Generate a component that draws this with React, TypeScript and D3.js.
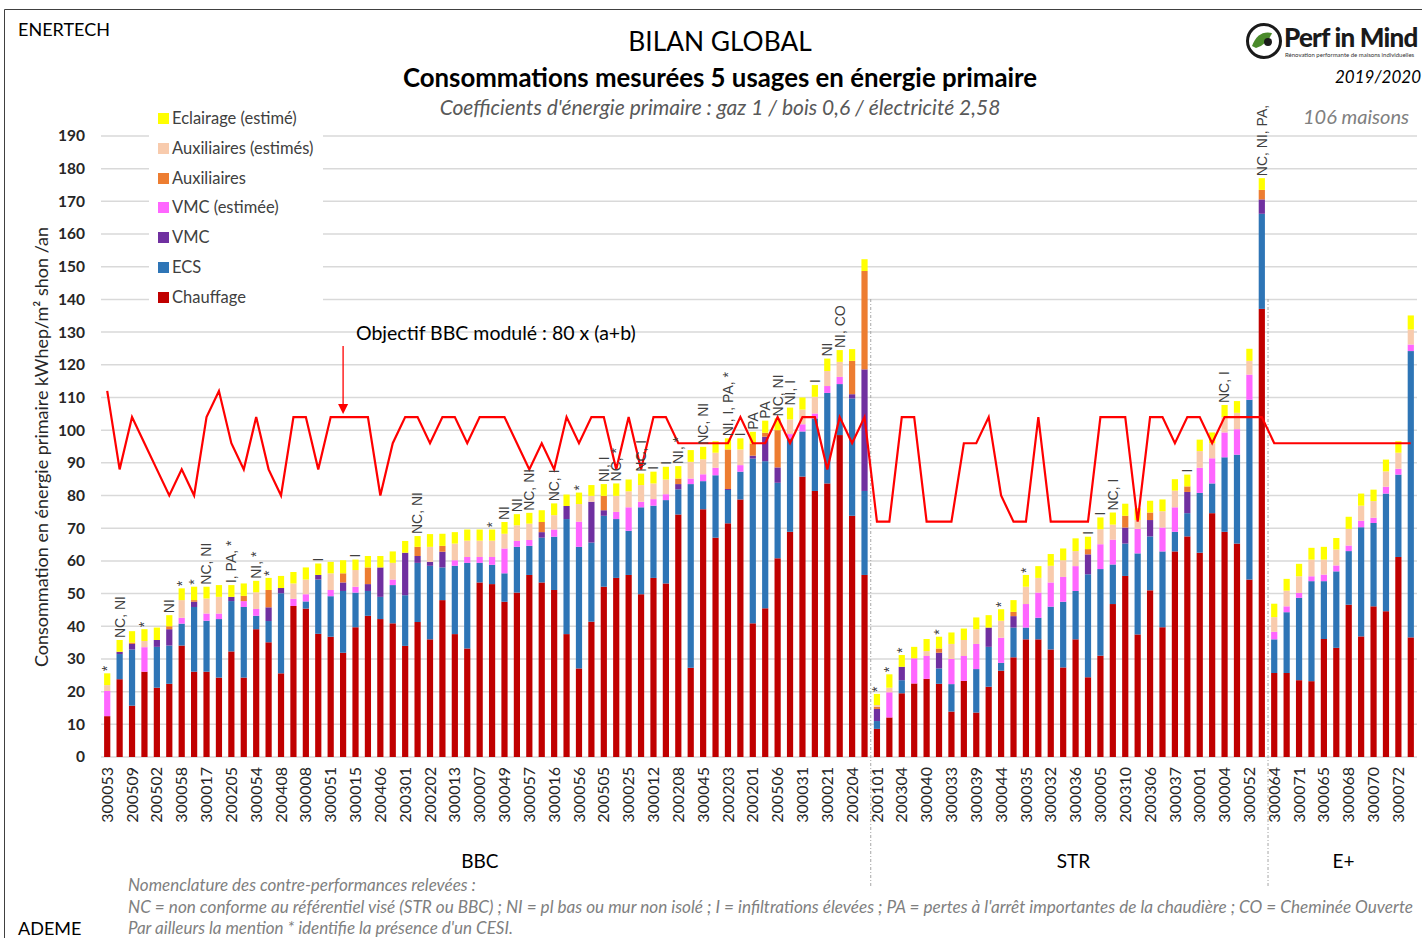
import React from "react";
import * as d3 from "d3";

// tick labels shown under every other house
const tickLabels = [
  "300053", "200509", "200502", "300058", "300017", "200205", "300054", "200408", "300008", "300051",
  "300015", "200406", "200301", "200202", "300013", "300007", "300049", "300057", "300016", "300056",
  "200505", "300025", "300012", "200208", "300045", "200203", "200201", "200506", "300031", "300021",
  "200204", "200101", "200304", "300040", "300033", "300039", "300044", "300035", "300032", "300036",
  "300005", "200310", "200306", "300037", "300001", "300004", "300052", "300064", "300071", "300065",
  "300068", "300070", "300072",
];

const groupNames = ["BBC", "STR", "E+"];
const groupSizes = [62, 32, 12];

const seriesNames = [
  "Chauffage", "ECS", "VMC", "VMC (estimée)", "Auxiliaires", "Auxiliaires (estimés)", "Eclairage (estimé)",
];
const seriesColors = ["#c00000", "#2e75b6", "#7030a0", "#ff66ff", "#ed7d31", "#f8cbad", "#ffff00"];

const chauffage = [
  12.5, 23.8, 15.7, 26.1, 21.2, 22.4, 34.1, 26.1, 26.1, 24.3,
  32.3, 24.3, 39.1, 35.1, 25.6, 46.2, 45.4, 37.7, 36.8, 31.9,
  39.7, 43.2, 42.2, 40.9, 34.0, 41.3, 36.0, 48.0, 37.6, 33.2,
  53.4, 52.9, 47.5, 50.3, 55.7, 53.4, 51.1, 37.6, 27.1, 41.4,
  52.1, 54.8, 55.7, 49.8, 54.8, 53.1, 74.2, 27.3, 75.8, 67.1,
  71.5, 78.8, 40.9, 45.5, 60.8, 68.9, 85.8, 81.4, 83.7, 98.5,
  73.8, 55.7, 8.6, 12.1, 19.5, 22.5, 23.9, 22.4, 13.9, 23.3,
  13.6, 21.5, 26.4, 30.5, 36.0, 36.0, 32.9, 27.4, 36.0, 24.4,
  31.0, 46.8, 55.4, 37.5, 51.0, 39.7, 62.9, 67.5, 62.5, 74.6,
  68.9, 65.3, 54.3, 137.1, 25.7, 25.7, 23.5, 23.2, 36.1, 33.4,
  46.6, 36.9, 46.1, 44.6, 61.2, 36.6,
];
const ecs = [
  0, 7.7, 17.2, 0, 12.5, 11.7, 6.7, 19.8, 15.6, 17.9,
  15.4, 21.6, 4.1, 6.5, 24.5, 0, 2.2, 16.6, 12.4, 18.9,
  10.6, 7.6, 6.8, 11.7, 15.5, 18.1, 22.5, 10.0, 20.9, 26.2,
  6.0, 5.9, 8.7, 14.0, 8.9, 13.7, 16.3, 35.2, 37.2, 24.2,
  21.7, 18.0, 13.5, 26.6, 22.1, 25.5, 7.7, 56.2, 8.6, 19.1,
  10.2, 8.5, 50.4, 45.0, 23.1, 28.6, 13.8, 22.2, 27.7, 15.6,
  35.9, 25.7, 2.4, 0, 4.0, 0, 0, 4.7, 8.4, 0,
  13.3, 12.2, 2.4, 9.1, 3.6, 6.6, 13.1, 20.1, 14.8, 31.5,
  26.5, 12.1, 9.9, 24.8, 16.5, 23.2, 6.0, 7.1, 18.3, 9.1,
  22.8, 27.2, 55.0, 29.1, 10.3, 18.6, 25.2, 30.6, 17.7, 23.4,
  16.4, 33.4, 25.5, 36.0, 25.2, 87.6,
];
const vmc = [
  0, 0.7, 1.7, 0, 2.1, 5.0, 0, 1.6, 0, 0,
  1.3, 0, 0, 4.2, 1.6, 0, 0, 1.4, 0, 2.6,
  0, 2.1, 9.0, 0, 13.0, 2.1, 1.2, 4.8, 0, 0,
  0, 0, 0, 0, 0, 1.7, 0, 4.0, 0, 12.5,
  1.7, 0, 0, 0, 0, 0, 1.6, 0, 0, 0,
  0.3, 0, 0.9, 7.5, 4.7, 0, 0, 0, 0, 0,
  1.3, 37.2, 3.7, 0, 4.1, 0, 0, 4.8, 0, 0,
  0, 5.9, 0, 3.5, 0, 0, 0, 0, 0, 6.1,
  0, 0, 4.9, 0, 5.0, 0, 0, 6.5, 0, 0,
  0, 0, 0, 4.4, 0, 0, 0, 0, 0, 0,
  0, 0, 0, 0, 0, 0,
];
const vmcEstimee = [
  7.7, 0, 0, 7.5, 0, 0, 1.8, 0, 2.2, 1.7,
  0, 1.8, 2.1, 0, 0, 2.2, 2.2, 0, 1.9, 0,
  1.8, 0, 0, 1.7, 0, 0, 0, 0, 1.7, 1.8,
  1.8, 2.4, 7.6, 1.8, 1.8, 0, 2.2, 0, 7.7, 0,
  0, 2.2, 7.2, 1.7, 2.0, 1.8, 0, 1.7, 2.1, 2.3,
  0, 2.0, 0, 0, 0, 1.3, 2.2, 1.5, 2.1, 2.2,
  0, 0, 0, 7.7, 0, 7.7, 7.0, 0, 7.7, 7.6,
  7.7, 0, 7.7, 0, 7.2, 7.7, 7.4, 7.6, 7.6, 0,
  7.6, 7.6, 0, 7.5, 0, 7.3, 7.5, 0, 7.7, 7.7,
  7.6, 7.8, 7.7, 0, 2.3, 1.8, 1.5, 1.5, 2.0, 1.8,
  1.7, 2.0, 1.6, 2.1, 1.8, 2.0,
];
const auxiliaires = [
  0, 0, 0.4, 0, 0, 0.9, 0, 0.5, 0, 0,
  0, 1.6, 0, 5.3, 0, 0, 0, 0, 0, 2.8,
  0, 5.1, 0, 0, 0, 2.8, 0, 1.8, 0, 0,
  0, 0, 0, 0, 0, 3.1, 0, 0, 0, 0,
  4.4, 0, 0, 0, 0, 0, 1.7, 0, 0, 0,
  12.1, 0, 3.7, 1.2, 11.4, 0, 0, 0, 0, 0,
  10.2, 30.1, 0.7, 0, 0, 0, 0, 1.3, 0, 0,
  0, 0, 0, 1.3, 0, 0, 0, 0, 0, 1.6,
  0, 0, 3.6, 0, 2.3, 0, 0, 1.7, 0, 0,
  0, 0, 0, 2.9, 0, 0, 0, 0, 0, 0,
  0, 0, 0, 0, 0, 0,
];
const auxEstimes = [
  1.8, 0, 0, 1.9, 0, 0, 5.4, 0, 4.6, 5.1,
  0, 0, 5.1, 0, 0, 4.7, 4.5, 0, 5.1, 0,
  5.1, 0, 0, 5.1, 0, 0, 4.6, 0, 5.1, 5.0,
  5.0, 5.0, 4.5, 4.8, 5.0, 0, 4.4, 0, 5.4, 1.8,
  0, 4.9, 4.9, 5.1, 4.8, 4.5, 0, 5.1, 4.6, 4.6,
  0, 4.8, 0, 0, 0, 4.5, 4.5, 5.1, 4.6, 4.6,
  0, 0, 0.5, 1.4, 0, 0, 1.5, 0, 4.6, 4.9,
  4.5, 0, 5.2, 0, 5.3, 4.5, 5.1, 5.1, 4.6, 0,
  4.6, 4.6, 0, 2.7, 0, 5.0, 5.1, 0, 5.1, 4.6,
  4.7, 5.0, 4.2, 0, 4.5, 4.8, 5.1, 5.1, 4.6, 4.9,
  5.1, 4.6, 5.1, 4.7, 4.9, 4.6,
];
const eclairage = [
  3.6, 3.6, 3.5, 3.6, 3.8, 3.4, 3.6, 4.1, 3.6, 3.6,
  3.6, 3.8, 3.5, 3.7, 3.7, 3.5, 3.7, 3.5, 3.5, 4.0,
  3.2, 3.5, 3.5, 3.5, 3.6, 3.3, 3.9, 3.7, 3.5, 3.4,
  3.4, 3.4, 3.6, 3.4, 3.3, 3.6, 3.6, 3.5, 3.5, 3.3,
  3.6, 3.8, 3.6, 3.5, 3.6, 3.9, 3.8, 3.6, 3.8, 3.5,
  3.4, 3.4, 3.6, 3.7, 3.6, 3.6, 3.7, 3.6, 3.8, 3.6,
  3.6, 3.6, 3.4, 4.1, 3.6, 3.5, 3.7, 3.6, 3.5, 3.5,
  3.6, 3.8, 3.5, 3.6, 3.6, 3.6, 3.6, 3.6, 3.9, 3.8,
  3.6, 3.7, 3.7, 3.6, 3.6, 3.6, 3.5, 3.6, 3.5, 3.3,
  3.7, 3.6, 3.7, 3.6, 4.1, 3.6, 3.8, 3.6, 3.9, 3.5,
  3.7, 3.7, 3.5, 3.6, 3.5, 4.3,
];

// objectif BBC modulé, one point per house
const objectif = [
  112, 88, 104, 96, 88, 80, 88, 80, 104, 112,
  96, 88, 104, 88, 80, 104, 104, 88, 104, 104,
  104, 104, 80, 96, 104, 104, 96, 104, 104, 96,
  104, 104, 104, 96, 88, 96, 88, 104, 96, 104,
  104, 88, 104, 88, 104, 104, 96, 96, 96, 96,
  96, 104, 96, 96, 104, 96, 104, 104, 88, 104,
  96, 104, 72, 72, 104, 104, 72, 72, 72, 96,
  96, 104, 80, 72, 72, 104, 72, 72, 72, 72,
  104, 104, 104, 72, 104, 104, 96, 104, 104, 96,
  104, 104, 104, 104, 96, 96, 96, 96, 96, 96,
  96, 96, 96, 96, 96, 96,
];

// contre-performances: [house index, label]
const annotations: [number, string][] = [
  [0, "*"], [1, "NC, NI"], [3, "*"], [5, "NI"], [6, "*"], [7, "*"], [8, "NC, NI"], [10, "I, PA, *"],
  [12, "NI, *"], [13, "*"], [17, "I"], [20, "I"], [25, "NC, NI"], [31, "*"], [32, "NI"], [33, "NI"],
  [34, "NC, NI"], [36, "NC, I"], [38, "*"], [40, "NI, I"], [41, "NC, *"], [43, "NC, I"], [44, "I"],
  [45, "I"], [46, "NI, *"], [48, "NC, NI"], [50, "NI, I, PA, *"], [51, "I"], [52, "PA"], [53, "PA"],
  [54, "NC, NI"], [55, "NI, I"], [57, "I"], [58, "NI"], [59, "NI, CO"], [62, "*"], [63, "*"], [64, "*"],
  [67, "*"], [72, "*"], [74, "*"], [79, "I"], [80, "I"], [81, "NC, I"], [87, "I"], [90, "NC, I"],
  [93, "NC, NI, PA,"],
];

const yTicks = [0, 10, 20, 30, 40, 50, 60, 70, 80, 90, 100, 110, 120, 130, 140, 150, 160, 170, 180, 190];

const FONT = "Lato, 'Open Sans', sans-serif";

export default function App() {
  const n = chauffage.length;
  const idx = d3.range(n);
  const x = d3.scaleBand<number>().domain(idx).range([101, 1417]).paddingInner(0.5).paddingOuter(0.25);
  const y = d3.scaleLinear().domain([0, 190]).range([757, 136]);
  const cx = (i: number) => (x(i) as number) + x.bandwidth() / 2;

  const all = [chauffage, ecs, vmc, vmcEstimee, auxiliaires, auxEstimes, eclairage];
  const rows = idx.map((i) => {
    const r: Record<string, number> = {};
    seriesNames.forEach((s, k) => (r[s] = all[k][i]));
    return r;
  });
  const stacked = d3.stack<Record<string, number>>().keys(seriesNames)(rows);
  const totals = idx.map((i) => all.reduce((a, s) => a + s[i], 0));

  const line = d3
    .line<number>()
    .x((_, i) => cx(i))
    .y((d) => y(d));

  // group boundaries
  const bounds: number[] = [];
  let acc = 0;
  groupSizes.forEach((g) => {
    bounds.push(acc);
    acc += g;
  });
  const sepX = bounds.slice(1).map((b) => ((x(b - 1) as number) + x.bandwidth() + (x(b) as number)) / 2);
  const groupNudge = [-6, 4, 1];

  const legendY = [118, 148, 178, 207, 237, 267, 297];

  return (
    <svg width={1422} height={938} style={{ position: "absolute", left: 0, top: 0, background: "#fff" }}>
      <rect x={0} y={0} width={1422} height={938} fill="#fff" />
      <path d="M4.5,938 V9.5 H1422" fill="none" stroke="#404040" strokeWidth={1} />

      {/* gridlines */}
      {yTicks.map((t) => (
        <line key={t} x1={101} x2={1417} y1={y(t)} y2={y(t)} stroke="#d9d9d9" strokeWidth={1.5} />
      ))}

      {/* bars */}
      {stacked.map((layer, k) => (
        <g key={layer.key} fill={seriesColors[k]}>
          {layer.map((d, i) =>
            d[1] - d[0] > 0 ? (
              <rect key={i} x={x(i)} y={y(d[1])} width={x.bandwidth()} height={y(d[0]) - y(d[1])} />
            ) : null
          )}
        </g>
      ))}

      {/* group separators */}
      {sepX.map((sx, i) => (
        <line key={i} x1={sx} x2={sx} y1={299} y2={886} stroke="#a6a6a6" strokeWidth={1} strokeDasharray="3 2 1 2" />
      ))}

      {/* objectif line */}
      <path d={line(objectif) || ""} fill="none" stroke="#ff0000" strokeWidth={2.2} strokeLinejoin="miter" />

      {/* legend */}
      <rect x={149} y={100} width={174} height={210} fill="#fff" />
      {seriesNames
        .slice()
        .reverse()
        .map((s, j) => (
          <g key={s} transform={`translate(158,${legendY[j]})`}>
            <rect x={0} y={-5} width={11} height={11} fill={seriesColors[seriesNames.length - 1 - j]} />
            <text x={14} y={5.5} fontFamily={FONT} fontSize={16.5} fill="#404040">
              {s}
            </text>
          </g>
        ))}

      {/* annotations */}
      {annotations.map(([i, t]) => (
        <text
          key={i}
          transform={`translate(${cx(i)},${y(totals[i]) - 2}) rotate(-90)`}
          dy="0.35em"
          fontFamily="'Liberation Sans', Arial, sans-serif"
          fontSize={14}
          fill="#404040"
        >
          {t}
        </text>
      ))}

      {/* y axis */}
      {yTicks.map((t) => (
        <text key={t} x={85} y={y(t)} dy="0.35em" textAnchor="end" fontFamily={FONT} fontWeight="bold" fontSize={15.5} fill="#262626">
          {t}
        </text>
      ))}
      <text
        transform="translate(42,447) rotate(-90)"
        dy="0.35em"
        textAnchor="middle"
        fontFamily={FONT}
        fontSize={18}
        fill="#262626"
      >
        Consommation en énergie primaire kWhep/m² shon /an
      </text>

      {/* x tick labels */}
      {tickLabels.map((t, j) => (
        <text
          key={t + j}
          transform={`translate(${cx(j * 2)},767) rotate(-90)`}
          dy="0.35em"
          textAnchor="end"
          fontFamily={FONT}
          fontSize={16}
          fill="#262626"
        >
          {t}
        </text>
      ))}

      {/* group names */}
      {groupNames.map((g, k) => {
        const a = bounds[k];
        const b = a + groupSizes[k] - 1;
        return (
          <text key={g} x={(cx(a) + cx(b)) / 2 + groupNudge[k]} y={868} textAnchor="middle" fontFamily={FONT} fontSize={19} fill="#000">
            {g}
          </text>
        );
      })}

      {/* objectif annotation */}
      <text x={356} y={340} fontFamily={FONT} fontSize={19.5} fill="#000">
        Objectif BBC modulé : 80 x (a+b)
      </text>
      <line x1={cx(19)} x2={cx(19)} y1={346} y2={405} stroke="#ff0000" strokeWidth={1.3} />
      <path d={`M${cx(19) - 5},404 L${cx(19) + 5},404 L${cx(19)},414 Z`} fill="#ff0000" />

      {/* titles */}
      <text x={18} y={36} fontFamily={FONT} fontSize={18} fill="#000">ENERTECH</text>
      <text x={720} y={51} textAnchor="middle" fontFamily={FONT} fontSize={26.3} fill="#000">BILAN GLOBAL</text>
      <text x={720} y={87} textAnchor="middle" fontFamily={FONT} fontWeight="bold" fontSize={25.8} fill="#000">
        Consommations mesurées 5 usages en énergie primaire
      </text>
      <text x={720} y={115} textAnchor="middle" fontFamily={FONT} fontStyle="italic" fontSize={21} fill="#595959">
        Coefficients d'énergie primaire : gaz 1 / bois 0,6 / électricité  2,58
      </text>
      <text x={1335} y={83} fontFamily={FONT} fontStyle="italic" fontSize={17} fill="#000">2019/2020</text>
      <text x={1303} y={124} fontFamily={FONT} fontStyle="italic" fontSize={20} fill="#808080">106 maisons</text>

      {/* logo */}
      <circle cx={1264} cy={41} r={16.5} fill="#fff" stroke="#1a1a1a" strokeWidth={3} />
      <path d="M1252,46 Q1258,30 1272,33 Q1268,44 1256,48 Z" fill="#4a8a2a" />
      <circle cx={1268} cy={42} r={4} fill="#1a1a1a" />
      <text x={1284} y={47} fontFamily={FONT} fontWeight={900} fontSize={26} fill="#1a1a1a" letterSpacing={-0.8}>
        Perf in Mind
      </text>
      <text x={1285} y={57} fontFamily={FONT} fontSize={6} fill="#333">
        Rénovation performante de maisons individuelles
      </text>

      {/* footnotes */}
      <g fontFamily={FONT} fontStyle="italic" fontSize={17} fill="#7f7f7f">
        <text x={128} y={891}>Nomenclature des contre-performances relevées :</text>
        <text x={128} y={913} textLength={1285} lengthAdjust="spacingAndGlyphs">
          NC = non conforme au référentiel visé (STR ou BBC) ; NI = pl bas ou mur non isolé ; I = infiltrations élevées ; PA = pertes à  l'arrêt importantes de la chaudière ; CO = Cheminée Ouverte
        </text>
        <text x={128} y={934}>Par ailleurs la mention * identifie la présence d'un CESI.</text>
      </g>
      <text x={18} y={935} fontFamily={FONT} fontSize={18} fill="#000">ADEME</text>
    </svg>
  );
}
